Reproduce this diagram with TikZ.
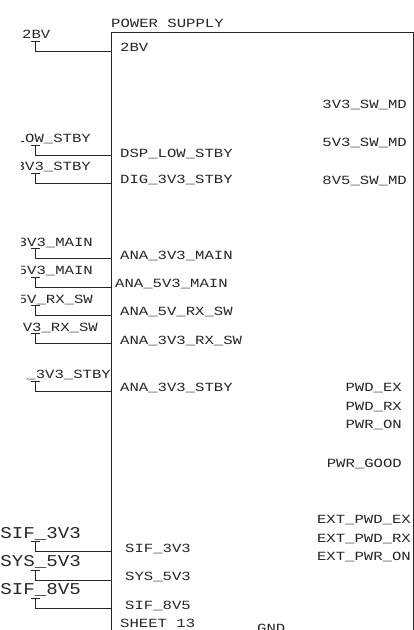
\documentclass[tikz,border=0pt]{standalone}
\usepackage{fontspec}
\newfontfamily\plotfont[FakeStretch=1.25]{Liberation Mono}
\newfontfamily\plotfontwide[FakeStretch=1.16]{Liberation Mono}
\tikzset{
  line/.style={draw=black!85,line width=0.9pt},
  lbl/.style={inner sep=0pt,text=black!85,font=\plotfont\fontsize{12.5}{12.5}\selectfont},
  leftlbl/.style={lbl,anchor=base west},
  rightlbl/.style={lbl,anchor=base east},
  biglbl/.style={inner sep=0pt,text=black!85,anchor=base east,font=\plotfontwide\fontsize{16.5}{16.5}\selectfont},
}
\newcommand{\pinwire}[2]{%
  \coordinate (#1t) at (35,#2-10);
  \coordinate (#1e) at (111,#2);
  \draw[line] (31,#2-10) -- (40,#2-10);
  \draw[line] (#1t) |- (#1e);
}
\begin{document}
\begin{tikzpicture}[x=1pt,y=-1pt]
\useasboundingbox (0,0) rectangle (414,630);
\draw[line] (111,660) -- (111,32) -- (413,32) -- (413,660);
\node[leftlbl] (title) at (111,27) {POWER SUPPLY};
% wires
\pinwire{a}{51}
\pinwire{b}{155}
\pinwire{c}{183}
\pinwire{d}{258}
\pinwire{e}{287}
\pinwire{f}{315}
\pinwire{g}{343}
\pinwire{h}{391}
\pinwire{i}{551}
\pinwire{j}{580}
\pinwire{k}{608}
% outer left labels, cut off on the left
\node[leftlbl] (la) at (22,38) {2BV};
\begin{scope}
\clip (21,0) rectangle (120,630);
\node[rightlbl] (lb) at (91,142) {LOW\_STBY};
\node[rightlbl] (lc) at (91,170) {3V3\_STBY};
\node[rightlbl] (ld) at (93,246) {3V3\_MAIN};
\node[rightlbl] (le) at (93,274) {5V3\_MAIN};
\node[rightlbl] (lf) at (93,303) {5V\_RX\_SW};
\node[rightlbl] (lg) at (98,331) {V3\_RX\_SW};
\node[rightlbl] (lh) at (111,378) {\_3V3\_STBY};
\end{scope}
\node[biglbl] (li) at (81,538) {SIF\_3V3};
\node[biglbl] (lj) at (81,566) {SYS\_5V3};
\node[biglbl] (lk) at (81,594) {SIF\_8V5};
% inner left labels
\node[leftlbl] (pa) at (120,51) {2BV};
\node[leftlbl] (pb) at (120,157) {DSP\_LOW\_STBY};
\node[leftlbl] (pc) at (120,183) {DIG\_3V3\_STBY};
\node[leftlbl] (pd) at (120,259) {ANA\_3V3\_MAIN};
\node[leftlbl] (pe) at (115,287) {ANA\_5V3\_MAIN};
\node[leftlbl] (pf) at (120,315) {ANA\_5V\_RX\_SW};
\node[leftlbl] (pg) at (120,344) {ANA\_3V3\_RX\_SW};
\node[leftlbl] (ph) at (120,391) {ANA\_3V3\_STBY};
\node[leftlbl] (pi) at (125,552) {SIF\_3V3};
\node[leftlbl] (pj) at (125,580) {SYS\_5V3};
\node[leftlbl] (pk) at (125,609) {SIF\_8V5};
\node[leftlbl] (sheet) at (120,627) {SHEET 13};
\node[leftlbl] (gnd) at (257,632) {GND};
% right labels
\node[rightlbl] (r1) at (407,108) {3V3\_SW\_MD};
\node[rightlbl] (r2) at (407,146) {5V3\_SW\_MD};
\node[rightlbl] (r3) at (407,184) {8V5\_SW\_MD};
\node[rightlbl] (r4) at (402,391) {PWD\_EX};
\node[rightlbl] (r5) at (402,410) {PWD\_RX};
\node[rightlbl] (r6) at (402,428) {PWR\_ON};
\node[rightlbl] (r7) at (402,467) {PWR\_GOOD};
\node[rightlbl] (r8) at (411,523) {EXT\_PWD\_EX};
\node[rightlbl] (r9) at (411,542) {EXT\_PWD\_RX};
\node[rightlbl] (r10) at (411,560) {EXT\_PWR\_ON};
\end{tikzpicture}
\end{document}
